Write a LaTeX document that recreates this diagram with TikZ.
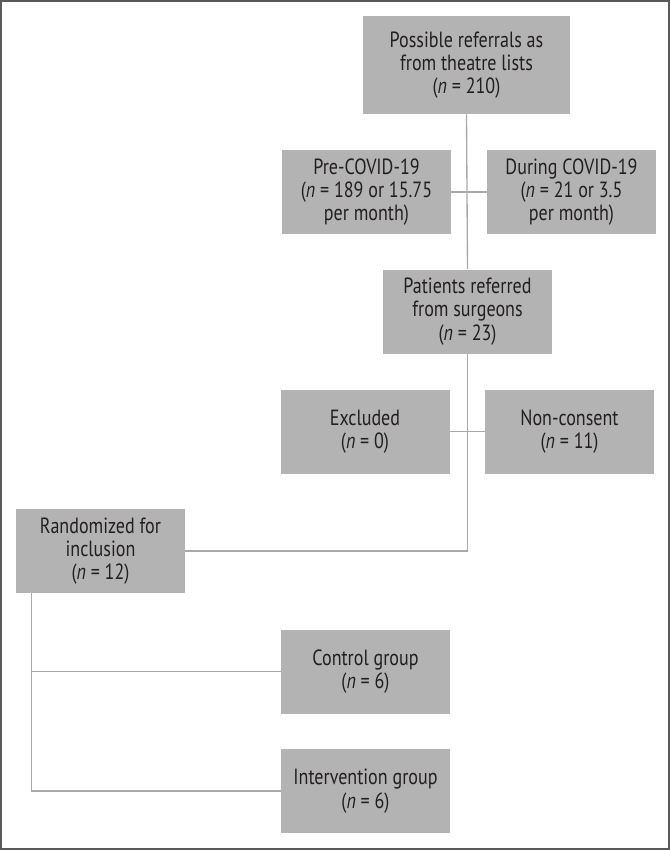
\documentclass[tikz,border=0pt]{standalone}
\usepackage{fontspec}
\setmainfont[FakeStretch=0.82]{PT Sans}
\definecolor{boxgray}{HTML}{B3B3B3}
\definecolor{linegray}{HTML}{A9A9A9}
\definecolor{framegray}{HTML}{5A5A5A}
\definecolor{inkgray}{HTML}{231F20}
\begin{document}
\begin{tikzpicture}[x=0.75pt, y=-0.75pt,
    box/.style={fill=boxgray, text=inkgray, align=center, inner sep=0pt,
      minimum width=126.75pt, minimum height=63pt,
      font=\fontsize{16.5}{17.5}\selectfont},
    link/.style={draw=linegray, line width=1pt}]
  \useasboundingbox (0,0) rectangle (670,850);
  \draw[framegray, line width=3pt] (0,0) rectangle (670,850);
  \node[box, minimum width=155.25pt, minimum height=73.5pt] (lists) at (466.5,65)
    {Possible referrals as\\from theatre lists\\(\textit{n} = 210)};
  \node[box] (pre) at (366.5,192) {Pre-COVID-19\\(\textit{n} = 189 or 15.75\\per month)};
  \node[box] (during) at (571.5,192) {During COVID-19\\(\textit{n} = 21 or 3.5\\per month)};
  \node[box] (referred) at (467.5,311.5) {Patients referred\\from surgeons\\(\textit{n} = 23)};
  \node[box] (excluded) at (365,431.5) {Excluded\\(\textit{n} = 0)};
  \node[box] (nonconsent) at (569.5,431.5) {Non-consent\\(\textit{n} = 11)};
  \node[box] (random) at (100.5,551) {Randomized for\\inclusion\\(\textit{n} = 12)};
  \node[box] (control) at (365.5,671.5) {Control group\\(\textit{n} = 6)};
  \node[box] (interv) at (365.5,791) {Intervention group\\(\textit{n} = 6)};
  \coordinate (split) at ([xshift=12pt]random.south west);
  \draw[link] (lists.south) -- (referred.north);
  \draw[link] (pre.east) -- (during.west);
  \draw[link] (excluded.east) -- (nonconsent.west);
  \draw[link] (referred.south) |- (random.east);
  \draw[link] (split) |- (control.west);
  \draw[link] (split) |- (interv.west);
\end{tikzpicture}
\end{document}
